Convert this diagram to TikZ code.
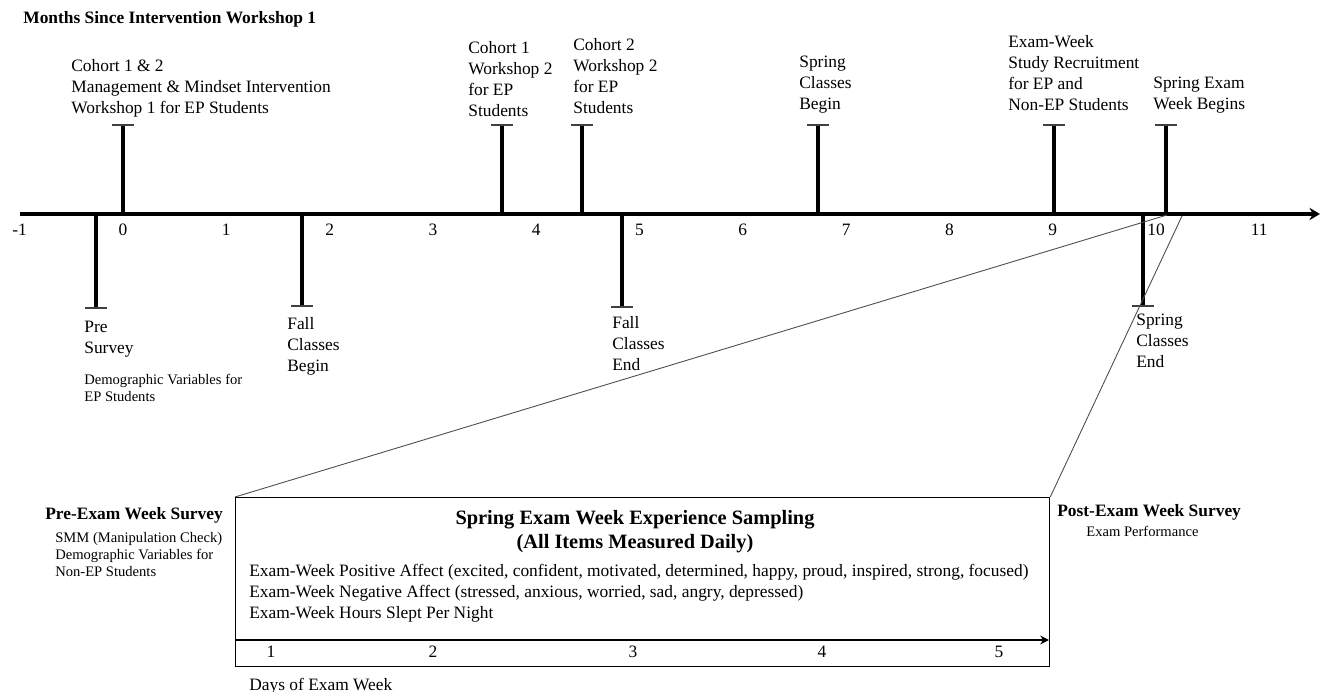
\documentclass[tikz,border=0pt]{standalone}
\usepackage{fontspec}
\setmainfont{Liberation Serif}
\usetikzlibrary{arrows.meta}
\tikzset{>={Stealth[length=5pt,width=5pt]}}
\newcommand{\tlfont}{\fontsize{9.9}{11.9}\selectfont}
\newcommand{\tlsmall}{\fontsize{8.3}{9.6}\selectfont}
\newcommand{\tlbig}{\fontsize{11.6}{13.6}\selectfont}

\begin{document}
\begin{tikzpicture}[x=0.02cm,y=-0.02cm,
    lbl/.style={anchor=north west,align=left,inner sep=0pt,font=\tlfont},
    smalllbl/.style={lbl,font=\tlsmall},
    stem/.style={line width=1.9pt},
    stemcap/.style={line width=0.6pt,black!75},
    zoomline/.style={line width=0.5pt,black!70}]
  \useasboundingbox (0,0) rectangle (1320,692);

  \node[lbl,font=\tlfont\bfseries] (title) at (23,11) {Months Since Intervention Workshop 1};

  % month axis
  \coordinate (axL) at (20,214);
  \coordinate (axR) at (1320,214);
  \draw[line width=2.4pt,-{Stealth[length=6pt,width=7pt]}] (axL) -- (axR);
  \foreach \m in {-1,...,11}
    \node[inner sep=0pt,font=\tlfont] (m\m) at ({123+103.3*\m},230) {\m};

  \foreach \n/\x in {ws1/123, c1w2/502, c2w2/582, spb/818, rec/1054, exb/1166}{
    \coordinate (\n-a) at (\x,214);
    \coordinate (\n-e) at (\x,125);
    \draw[stem] (\n-a) -- (\n-e);
    \draw[stemcap] (\n-e) ++(-11,0) -- ++(22,0);
  }
  \foreach \n/\x/\y in {pre/96/308, fcb/302/306, fce/622/307, sce/1143/306}{
    \coordinate (\n-a) at (\x,216);
    \coordinate (\n-e) at (\x,\y);
    \draw[stem] (\n-a) -- (\n-e);
    \draw[stemcap] (\n-e) ++(-11,0) -- ++(22,0);
  }

  \node[lbl] (ws1) at (71,59.5) {Cohort 1 \& 2\\Management \& Mindset Intervention\\Workshop 1 for EP Students};
  \node[lbl] (c1w2) at (468,41) {Cohort 1\\Workshop 2\\for EP\\Students};
  \node[lbl] (c2w2) at (573,38) {Cohort 2\\Workshop 2\\for EP\\Students};
  \node[lbl] (spb) at (799,55.5) {Spring\\Classes\\Begin};
  \node[lbl] (rec) at (1008,35) {Exam-Week\\Study Recruitment\\for EP and\\Non-EP Students};
  \node[lbl] (exb) at (1153,77) {Spring Exam\\Week Begins};

  \node[lbl] (pre) at (84,321) {Pre\\Survey};
  \node[smalllbl] (predem) at (84,374) {Demographic Variables for\\EP Students};
  \node[lbl] (fcb) at (287,317) {Fall\\Classes\\Begin};
  \node[lbl] (fce) at (612,316) {Fall\\Classes\\End};
  \node[lbl] (sce) at (1136,314) {Spring\\Classes\\End};

  % exam week box
  \node[draw,line width=0.8pt,minimum width=16.28cm,minimum height=3.38cm,inner sep=0pt,anchor=north west] (esm) at (235,497) {};
  \node[anchor=north,align=center,inner sep=0pt,font=\tlbig\bfseries] (esmt) at (635,510) {Spring Exam Week Experience Sampling\\(All Items Measured Daily)};
  \node[lbl] (items) at (249,564) {Exam-Week Positive Affect (excited, confident, motivated, determined, happy, proud, inspired, strong, focused)\\Exam-Week Negative Affect (stressed, anxious, worried, sad, angry, depressed)\\Exam-Week Hours Slept Per Night};
  \coordinate (d0) at (235,640);
  \coordinate (d1) at (1049,640);
  \draw[line width=1.1pt,->] (d0) -- (d1);
  \foreach \d/\x in {1/271, 2/433, 3/633, 4/822, 5/999}
    \node[inner sep=0pt,font=\tlfont] (day\d) at (\x,652) {\d};
  \node[lbl] (days) at (249,678) {Days of Exam Week};

  \node[lbl,font=\tlfont\bfseries] (preex) at (45,507) {Pre-Exam Week Survey};
  \node[smalllbl] (preexv) at (55,532) {SMM (Manipulation Check)\\Demographic Variables for\\Non-EP Students};
  \node[lbl,font=\tlfont\bfseries] (postex) at (1057,504) {Post-Exam Week Survey};
  \node[smalllbl] (postexv) at (1086,526) {Exam Performance};

  \coordinate (zL) at (1167,215);
  \coordinate (zR) at (1182,216);
  \draw[zoomline] (esm.north west) -- (zL);
  \draw[zoomline] (esm.north east) -- (zR);
\end{tikzpicture}
\end{document}
